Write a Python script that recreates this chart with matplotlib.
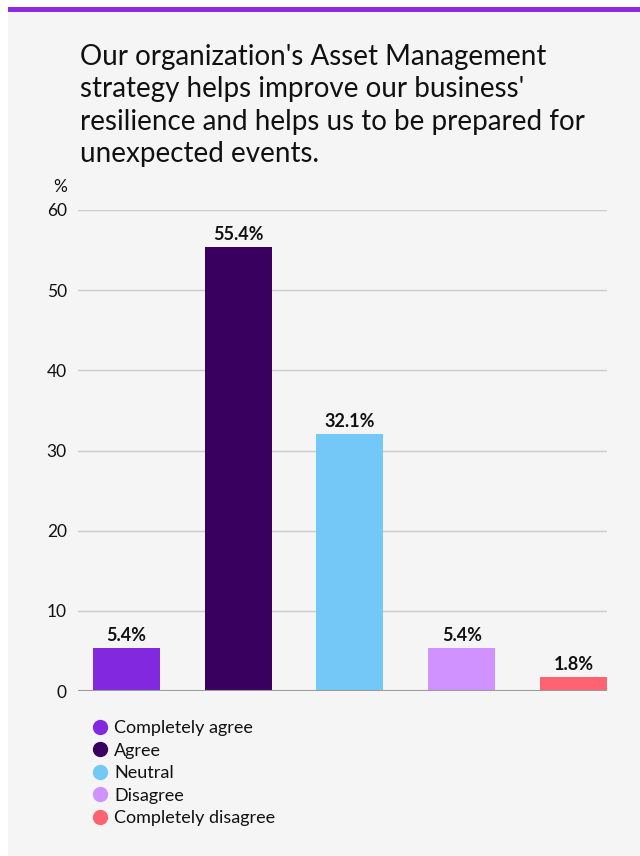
import matplotlib
matplotlib.use("Agg")
import matplotlib.pyplot as plt
from matplotlib.patches import Rectangle
from matplotlib.lines import Line2D

categories = ["Completely agree", "Agree", "Neutral", "Disagree", "Completely disagree"]
values = [5.4, 55.4, 32.1, 5.4, 1.8]
labels = ["5.4%", "55.4%", "32.1%", "5.4%", "1.8%"]
colors = ["#8229e0", "#3a0060", "#73c8f8", "#cf92ff", "#ff6372"]
yticks = [0, 10, 20, 30, 40, 50, 60]
title = "Our organization's Asset Management\nstrategy helps improve our business'\nresilience and helps us to be prepared for\nunexpected events."

plt.rcParams['font.family'] = ['Lato', 'DejaVu Sans']

W, H = 640, 856
fig = plt.figure(figsize=(W / 100, H / 100), dpi=100)
fig.patch.set_facecolor("white")

# gray panel and purple top bar
fig.add_artist(Rectangle((8 / W, 0), 1 - 8 / W, 1 - 12 / H, transform=fig.transFigure,
                         facecolor="#f5f5f5", edgecolor="none", zorder=0))
fig.add_artist(Rectangle((8 / W, 1 - 12 / H), 1 - 8 / W, 5 / H, transform=fig.transFigure,
                         facecolor="#8a2be2", edgecolor="none", zorder=0))

fig.text(80 / W, 1 - 44 / H, title, ha="left", va="top", fontsize=20,
         color="#111111", linespacing=1.3)

ax = fig.add_axes([78 / W, 1 - 691 / H, (607 - 78) / W, (691 - 210) / H])
ax.set_facecolor("none")
x = list(range(len(categories)))
ax.bar(x, values, width=0.6, color=colors, zorder=3)
for xi, v, lab in zip(x, values, labels):
    ax.text(xi, v + 0.5, lab, ha="center", va="bottom", fontsize=13,
            fontweight="bold", color="#111111", zorder=4)

ax.set_ylim(0, 60)
ax.set_xlim(-0.433, 4.3)
ax.set_yticks(yticks)
ax.set_yticklabels([str(t) for t in yticks], fontsize=12.5, color="#111111")
ax.set_xticks([])
ax.tick_params(axis="y", length=0, pad=8)
for s in ax.spines.values():
    s.set_visible(False)
ax.grid(axis="y", color="#cccccc", linewidth=1, zorder=0)
ax.axhline(0, color="#9a9a9a", linewidth=1.5, zorder=4)

fig.text(60 / W, 1 - 187 / H, "%", ha="center", va="center", fontsize=12.5, color="#111111")

handles = [Line2D([0], [0], marker="o", linestyle="none", markersize=10,
                  markerfacecolor=c, markeredgecolor=c) for c in colors]
leg = fig.legend(handles, categories, loc="upper left",
                 bbox_to_anchor=(80 / W, 1 - 711 / H), frameon=False,
                 fontsize=13, handletextpad=0.2, labelspacing=0.36,
                 borderpad=0, handlelength=1.2)
for t in leg.get_texts():
    t.set_color("#111111")

fig.savefig("out.png", dpi=100, facecolor=fig.get_facecolor())
